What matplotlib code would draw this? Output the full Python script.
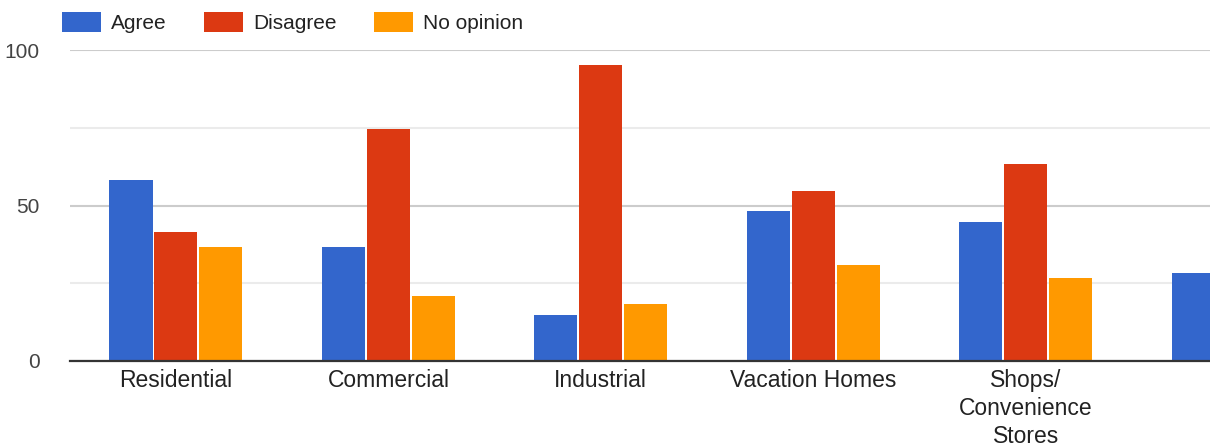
import numpy as np
import matplotlib.pyplot as plt
from matplotlib import rcParams

categories = ["Residential", "Commercial", "Industrial", "Vacation Homes",
              "Shops/\nConvenience\nStores", "Other"]
agree = [58.2, 36.7, 14.8, 48.2, 44.8, 28.3]
disagree = [41.5, 74.6, 95.2, 54.7, 63.3, np.nan]
no_opinion = [36.7, 20.9, 18.3, 30.9, 26.7, np.nan]
series_names = ["Agree", "Disagree", "No opinion"]
colors = ["#3366cc", "#dc3912", "#ff9900"]

rcParams.update({'font.family': ['Liberation Sans', 'DejaVu Sans']})

fig = plt.figure(figsize=(12.1, 4.47), dpi=100)
ax = fig.add_axes([70 / 1210, 86 / 447, 1 - 70 / 1210, 311 / 447])

x = np.arange(len(categories))
slot = 0.2118
bw = 0.2025
for i, (vals, name, c) in enumerate(zip([agree, disagree, no_opinion], series_names, colors)):
    ax.bar(x + (i - 1) * slot, vals, bw, color=c, label=name, zorder=3)

ax.set_xticks(x)
ax.set_xticklabels(categories, fontsize=16.5, color='#222222', linespacing=1.28)
ax.set_yticks([0, 50, 100])
ax.set_yticks([25, 75], minor=True)
ax.set_xlim(-0.499, 4.868)
ax.set_ylim(0, 100)
ax.yaxis.grid(True, which='major', color='#cccccc', linewidth=1.5, zorder=0)
ax.yaxis.grid(True, which='minor', color='#ebebeb', linewidth=1.5, zorder=0)
ax.tick_params(axis='x', length=0, pad=6)
ax.tick_params(axis='y', which='both', length=0, pad=22, labelsize=15, labelcolor='#444444')
for s in ['top', 'left', 'right']:
    ax.spines[s].set_visible(False)
ax.spines['bottom'].set_color('#333333')
ax.spines['bottom'].set_linewidth(1.6)
ax.spines['bottom'].set_zorder(4)

ax.legend(loc='upper left', bbox_to_anchor=(62 / 1210, 1 - 12 / 447),
          bbox_transform=fig.transFigure, ncol=3, frameon=False, fontsize=15,
          handlelength=1.85, handleheight=1.1, handletextpad=0.5,
          columnspacing=1.8, borderpad=0, borderaxespad=0,
          labelcolor='#222222')

fig.savefig("out.png", dpi=100)
plt.close(fig)
